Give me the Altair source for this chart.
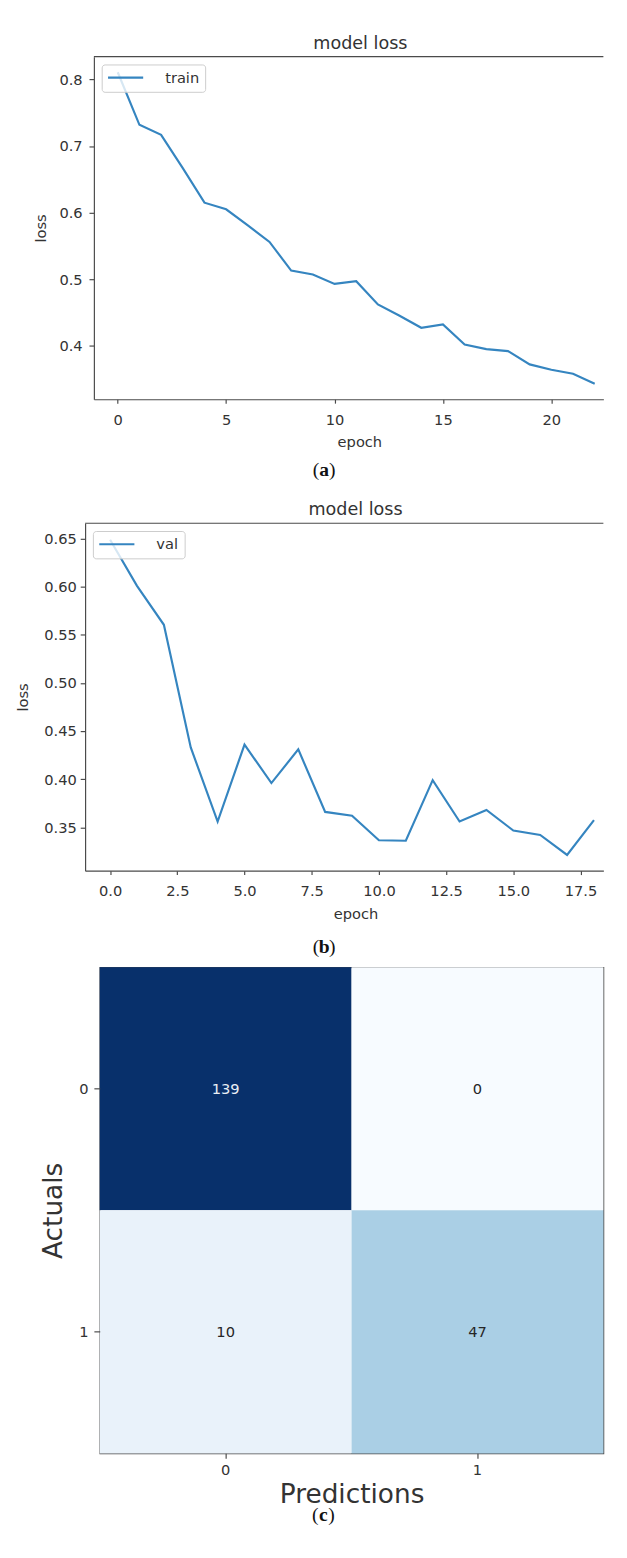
import altair as alt
import pandas as pd

# ---------------- data ----------------
train_epochs = list(range(23))
train_loss = [0.811, 0.732, 0.717, 0.667, 0.615, 0.605, 0.581, 0.556, 0.513, 0.507,
              0.493, 0.497, 0.462, 0.445, 0.427, 0.432, 0.402, 0.395, 0.392, 0.372,
              0.364, 0.358, 0.343]
val_epochs = list(range(19))
val_loss = [0.649, 0.601, 0.5605, 0.433, 0.356, 0.436, 0.396, 0.431, 0.366, 0.362,
            0.3365, 0.336, 0.399, 0.356, 0.368, 0.3466, 0.342, 0.3213, 0.3574]
cm_actual = ["0", "0", "1", "1"]
cm_pred = ["0", "1", "0", "1"]
cm_count = [139, 0, 10, 47]

train_ticks = [0, 5, 10, 15, 20]
train_yticks = [0.4, 0.5, 0.6, 0.7, 0.8]
val_ticks = [0.0, 2.5, 5.0, 7.5, 10.0, 12.5, 15.0, 17.5]
val_yticks = [0.35, 0.40, 0.45, 0.50, 0.55, 0.60, 0.65]

# matplotlib "Blues" colormap stops
blues = ["#f7fbff", "#deebf7", "#c6dbef", "#9ecae1", "#6baed6",
         "#4292c6", "#2171b5", "#08519c", "#08306b"]

# ---------------- style ----------------
FONT = "DejaVu Sans"
SERIF = "Liberation Serif"
INK = "#333333"
SPINE = "#4a4a4a"
BLUE = "#3585c0"


def axis_style(**kw):
    base = dict(labelFont=FONT, labelFontSize=15, labelColor=INK, titleFont=FONT,
                titleFontSize=15, titleFontWeight="normal", titleColor=INK,
                tickColor=SPINE, tickWidth=1.2, domainColor=SPINE, domainWidth=1.2,
                grid=False, titleAlign="center", titleBaseline="middle")
    base.update(kw)
    return alt.Axis(**base)


def legend_style(lx, ly):
    return alt.Legend(orient="none", legendX=lx, legendY=ly, title=None,
                      symbolType="M-3,0H3", symbolSize=144, symbolStrokeWidth=2.2,
                      symbolOffset=11, labelFont=FONT, labelFontSize=15, labelColor=INK,
                      labelOffset=33, padding=6, strokeColor="#cccccc",
                      fillColor="rgba(255,255,255,0.8)", cornerRadius=3)


def dummy():
    return alt.Chart(pd.DataFrame({"v": [0]}))


def top_border(x0, x1):
    return dummy().mark_rule(color=SPINE, strokeWidth=1.2).encode(
        x=alt.value(x0), x2=alt.value(x1), y=alt.value(0))


def caption(letter, cx, cy):
    common = dict(font=SERIF, fontSize=20, baseline="middle", color="#111111")
    lp = dummy().mark_text(text="(", align="right", **common).encode(
        x=alt.value(cx - 5), y=alt.value(cy))
    mid = dummy().mark_text(text=letter, align="center", fontWeight="bold", **common).encode(
        x=alt.value(cx), y=alt.value(cy))
    rp = dummy().mark_text(text=")", align="left", **common).encode(
        x=alt.value(cx + 5), y=alt.value(cy))
    return [lp, mid, rp]


def top_title(cx):
    return dummy().mark_text(text="model loss", font=FONT, fontSize=18, color=INK,
                             align="center", baseline="alphabetic").encode(
        x=alt.value(cx), y=alt.value(-8))


def anchors(x, ytop, ybot):
    # invisible corner points that fix each panel's layout box on the page
    a1 = dummy().mark_square(opacity=0, size=1, strokeWidth=0, filled=True).encode(
        x=alt.value(x + 0.5), y=alt.value(ytop + 0.5))
    a2 = dummy().mark_square(opacity=0, size=1, strokeWidth=0, filled=True).encode(
        x=alt.value(x + 0.5), y=alt.value(ybot - 0.5))
    return [a1, a2]


# page geometry: all panels share one layout origin (X0); each frame is shifted inside it
X0 = 101
AX0, AY0 = 95, 38
BX0, BY0 = 86, 514
CX0, CY0 = 101, 967
BAND = [8, 476, 962, 1539]
PAGE_L = 8
RIGHT = 617
ANC = PAGE_L - X0
NO_FRAME = alt.ViewBackground(stroke="transparent")

# ---------------- (a) train loss ----------------
dA = AX0 - X0
HA = 351
WA = RIGHT - X0
dfA = pd.DataFrame({"epoch": train_epochs, "loss": train_loss,
                    "series": ["train"] * len(train_epochs)})
lineA = alt.Chart(dfA).mark_line(strokeWidth=2.2).encode(
    x=alt.X("epoch:Q",
            scale=alt.Scale(domain=[-1.1, 22.4], range=[dA, WA], nice=False, zero=False),
            axis=axis_style(values=train_ticks, format="d", tickSize=4, labelPadding=10,
                            title="epoch", titleX=dA + 272, titleY=43)),
    y=alt.Y("loss:Q", scale=alt.Scale(domain=[0.3196, 0.8344], nice=False, zero=False),
            axis=axis_style(values=train_yticks, format=".1f", tickSize=5, labelPadding=7,
                            offset=-dA, title="loss", titleX=-55, titleY=HA / 2,
                            titleAngle=270)),
    color=alt.Color("series:N", scale=alt.Scale(range=[BLUE]),
                    legend=legend_style(dA + 8, 8)),
)
chartA = alt.layer(lineA, top_border(dA, WA), top_title(dA + 273),
                   *caption("a", dA + 236, 424),
                   *anchors(ANC, BAND[0] - AY0, BAND[1] - AY0)).properties(
    width=WA, height=HA, view=NO_FRAME)

# ---------------- (b) val loss ----------------
dB = BX0 - X0
HB = 356
WB = RIGHT - X0
dfB = pd.DataFrame({"epoch": val_epochs, "loss": val_loss,
                    "series": ["val"] * len(val_epochs)})
lineB = alt.Chart(dfB).mark_line(strokeWidth=2.2).encode(
    x=alt.X("epoch:Q",
            scale=alt.Scale(domain=[-0.93, 18.35], range=[dB, WB], nice=False, zero=False),
            axis=axis_style(values=val_ticks, format=".1f", tickSize=4, labelPadding=9,
                            title="epoch", titleX=dB + 277, titleY=44)),
    y=alt.Y("loss:Q", scale=alt.Scale(domain=[0.3049, 0.6661], nice=False, zero=False),
            axis=axis_style(values=val_yticks, format=".2f", tickSize=5, labelPadding=4,
                            offset=-dB, title="loss", titleX=-64, titleY=HB / 2,
                            titleAngle=270)),
    color=alt.Color("series:N", scale=alt.Scale(range=[BLUE]),
                    legend=legend_style(dB + 8, 8)),
)
chartB = alt.layer(lineB, top_border(dB, WB), top_title(dB + 277),
                   *caption("b", dB + 245, 434),
                   *anchors(ANC, BAND[1] - BY0, BAND[2] - BY0)).properties(
    width=WB, height=HB, view=NO_FRAME)

# ---------------- (c) confusion matrix ----------------
WC, HC = 516, 498
dfC = pd.DataFrame({"actual": cm_actual, "pred": cm_pred, "count": cm_count})
cmax = max(cm_count)
color_domain = [cmax * i / (len(blues) - 1) for i in range(len(blues))]
xC = alt.X("pred:O", scale=alt.Scale(paddingInner=0, paddingOuter=0),
           axis=axis_style(labelAngle=0, tickSize=5, labelPadding=5, domain=False,
                           title="Predictions", titleFontSize=27, titleX=WC / 2, titleY=42))
yC = alt.Y("actual:O", scale=alt.Scale(paddingInner=0, paddingOuter=0),
           axis=axis_style(tickSize=6, labelPadding=6, domain=False, title="Actuals",
                           titleFontSize=27, titleX=-47, titleY=HC / 2, titleAngle=270))
rects = alt.Chart(dfC).mark_rect().encode(
    x=xC, y=yC,
    color=alt.Color("count:Q", scale=alt.Scale(domain=color_domain, range=blues,
                                                interpolate="rgb"), legend=None))
texts = alt.Chart(dfC).mark_text(font=FONT, fontSize=15).encode(
    x=xC, y=yC, text="count:Q",
    color=alt.condition(f"datum.count > {cmax / 2}", alt.value("#e9eef5"),
                        alt.value("#262626")))
chartC = alt.layer(rects, texts, *caption("c", 229, 561),
                   *anchors(ANC, BAND[2] - CY0, BAND[3] - CY0)).properties(
    width=WC, height=HC, view=alt.ViewBackground(stroke=SPINE, strokeWidth=1.2))

# ---------------- layout ----------------
chart = alt.vconcat(chartA, chartB, chartC, spacing=0).properties(
    padding=0).configure(background="white")

chart.save("out.html", embed_options={"renderer": "svg", "actions": False})
